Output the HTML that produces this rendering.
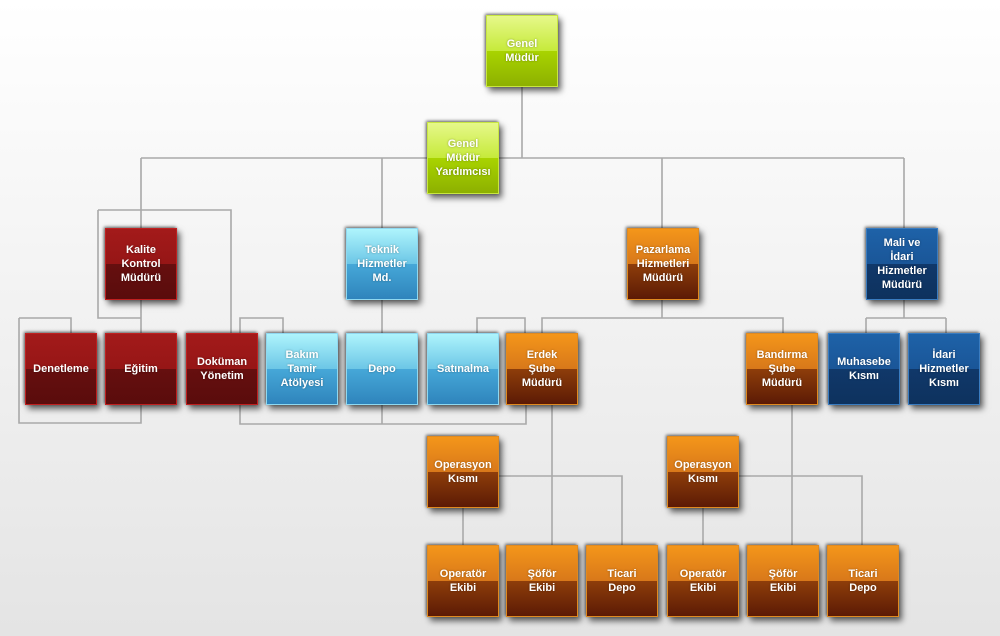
<!DOCTYPE html>
<html><head><meta charset="utf-8"><style>
html,body{margin:0;padding:0}
body{width:1000px;height:636px;position:relative;overflow:hidden;background:linear-gradient(#ffffff,#e4e4e4);font-family:"Liberation Sans","DejaVu Sans",sans-serif}
svg{position:absolute;left:0;top:0}
.b{position:absolute;width:72px;height:72px;box-sizing:border-box;display:flex;align-items:center;justify-content:center;text-align:center;color:#fff;font-weight:bold;font-size:11px;line-height:14px;box-shadow:-1px -1px 3px rgba(0,0,0,.6),3px 4px 6px rgba(0,0,0,.6);text-shadow:0 0 2px rgba(0,0,0,.35)}
.g{background:linear-gradient(#e6f88a 0%,#c6ea3a 50%,#a9d400 50%,#8db000 100%);border:1px solid #c8e640}
.r{background:linear-gradient(#a31a1a 0%,#961616 50%,#660f0f 50%,#5a0c0c 100%);border:1px solid #c02020}
.c{background:linear-gradient(#aef4fc 0%,#6cc6e6 50%,#46a8d8 50%,#2f84bc 100%);border:1px solid #8fd8f0}
.o{background:linear-gradient(#f4961a 0%,#d8781a 50%,#8e3e0a 50%,#5c1a05 100%);border:1px solid #e08a20}
.d{background:linear-gradient(#1e62a8 0%,#1a5698 50%,#10386a 50%,#0e325e 100%);border:1px solid #3a7cc0}
</style></head><body>
<svg width="1000" height="636" fill="none" stroke="#a9a9a9" stroke-width="1.6">
<path d="M522 87V158M141 158H904M141 158V228M382 158V228M662 158V228M904 158V228"/>
<path d="M98 210H231V333M98 210V318H141M141 300V333"/>
<path d="M19 318H71V333M19 318V423H141V405"/>
<path d="M240 333V318H283V333M240 405V424H526V405M382 300V333M382 405V424"/>
<path d="M477 333V318H525V333M542 333V318H783V333M662 300V318"/>
<path d="M904 300V318M866 318H946M866 318V333M946 318V333"/>
<path d="M552 405V545M499 476H622V545M463 508V545"/>
<path d="M792 405V545M739 476H862V545M703 508V545"/>
</svg>
<div class="b g" style="left:486px;top:15px">Genel<br>Müdür</div>
<div class="b g" style="left:427px;top:122px">Genel<br>Müdür<br>Yardımcısı</div>
<div class="b r" style="left:105px;top:228px">Kalite<br>Kontrol<br>Müdürü</div>
<div class="b c" style="left:346px;top:228px">Teknik<br>Hizmetler<br>Md.</div>
<div class="b o" style="left:627px;top:228px">Pazarlama<br>Hizmetleri<br>Müdürü</div>
<div class="b d" style="left:866px;top:228px">Mali ve<br>İdari<br>Hizmetler<br>Müdürü</div>
<div class="b r" style="left:25px;top:333px">Denetleme</div>
<div class="b r" style="left:105px;top:333px">Eğitim</div>
<div class="b r" style="left:186px;top:333px">Doküman<br>Yönetim</div>
<div class="b c" style="left:266px;top:333px">Bakım<br>Tamir<br>Atölyesi</div>
<div class="b c" style="left:346px;top:333px">Depo</div>
<div class="b c" style="left:427px;top:333px">Satınalma</div>
<div class="b o" style="left:506px;top:333px">Erdek<br>Şube<br>Müdürü</div>
<div class="b o" style="left:746px;top:333px">Bandırma<br>Şube<br>Müdürü</div>
<div class="b d" style="left:828px;top:333px">Muhasebe<br>Kısmı</div>
<div class="b d" style="left:908px;top:333px">İdari<br>Hizmetler<br>Kısmı</div>
<div class="b o" style="left:427px;top:436px">Operasyon<br>Kısmı</div>
<div class="b o" style="left:667px;top:436px">Operasyon<br>Kısmı</div>
<div class="b o" style="left:427px;top:545px">Operatör<br>Ekibi</div>
<div class="b o" style="left:506px;top:545px">Şöför<br>Ekibi</div>
<div class="b o" style="left:586px;top:545px">Ticari<br>Depo</div>
<div class="b o" style="left:667px;top:545px">Operatör<br>Ekibi</div>
<div class="b o" style="left:747px;top:545px">Şöför<br>Ekibi</div>
<div class="b o" style="left:827px;top:545px">Ticari<br>Depo</div>
</body></html>
